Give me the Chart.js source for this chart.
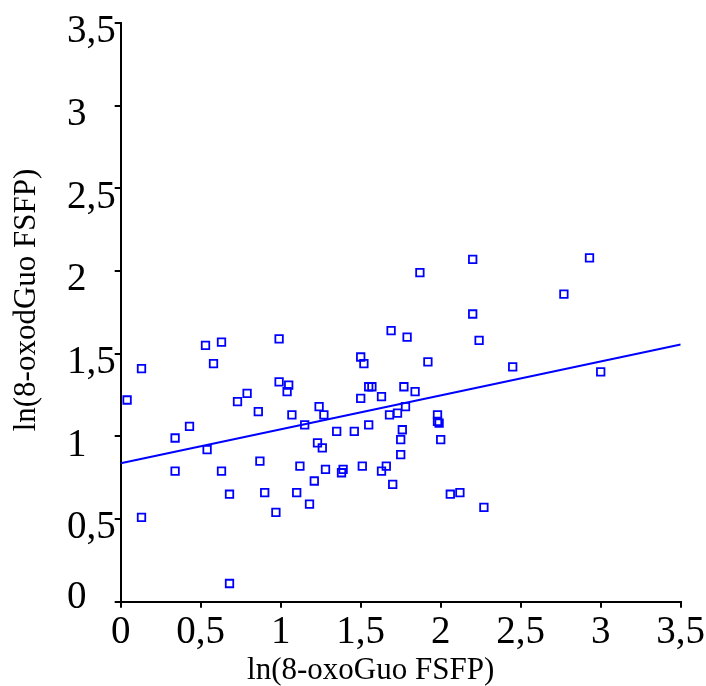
<!DOCTYPE html>
<html>
<head>
<meta charset="utf-8">
<script src="https://cdn.jsdelivr.net/npm/chart.js@4.4.1/dist/chart.umd.min.js"></script>
<style>
html,body{margin:0;padding:0;background:#fff;}
#wrap{width:706px;height:686px;}
</style>
</head>
<body>
<div id="wrap"><canvas id="c" width="706" height="686"></canvas></div>
<script>
// ---- data ----
const xValues = [0.04,0.13,0.13,0.34,0.34,0.43,0.53,0.54,0.58,0.63,0.63,0.68,0.68,0.73,0.79,0.86,0.87,0.90,0.97,0.99,0.99,1.05,1.04,1.07,1.10,1.12,1.15,1.18,1.21,1.23,1.24,1.26,1.27,1.28,1.35,1.38,1.39,1.46,1.50,1.52,1.50,1.51,1.55,1.55,1.57,1.63,1.63,1.66,1.68,1.69,1.70,1.73,1.75,1.75,1.76,1.77,1.79,1.78,1.84,1.87,1.92,1.98,1.98,1.99,2.00,2.06,2.12,2.20,2.20,2.24,2.27,2.45,2.77,2.93,3.00];
const yValues = [1.22,1.41,0.51,0.99,0.79,1.06,1.55,0.92,1.44,1.57,0.79,0.65,0.11,1.21,1.26,1.15,0.85,0.66,0.54,1.59,1.33,1.31,1.27,1.13,0.66,0.82,1.07,0.59,0.73,0.96,1.18,0.93,1.13,0.80,1.03,0.78,0.80,1.03,1.48,1.44,1.23,0.82,1.07,1.30,1.30,1.24,0.79,0.82,1.13,1.64,0.71,1.14,0.89,0.98,1.04,1.30,1.60,1.18,1.27,1.99,1.45,1.13,1.09,1.08,0.98,0.65,0.66,1.74,2.07,1.58,0.57,1.42,1.86,2.08,1.39];
const fitLineX = [0, 3.5];
const fitLineY = [0.837, 1.556];
const xTickLabels = ['0','0,5','1','1,5','2','2,5','3','3,5'];
const yTickLabels = ['0','0,5','1','1,5','2','2,5','3','3,5'];
const xTitle = 'ln(8-oxoGuo FSFP)';
const yTitle = 'ln(8-oxodGuo FSFP)';

const scatterPts = xValues.map((x, i) => ({x: x, y: yValues[i]}));
const linePts = fitLineX.map((x, i) => ({x: x, y: fitLineY[i]}));

const fontFamily = '"Liberation Serif", "Times New Roman", serif';
const tickFont = {family: fontFamily, size: 39};

const titlePlugin = {
  id: 'axisTitles',
  afterDraw(chart) {
    const ctx = chart.ctx;
    const a = chart.chartArea;
    ctx.save();
    ctx.fillStyle = '#000';
    ctx.font = '31px ' + fontFamily;
    ctx.textAlign = 'center';
    ctx.textBaseline = 'alphabetic';
    ctx.fillText(xTitle, a.left + 250, 679);
    ctx.translate(35, a.top + 277);
    ctx.rotate(-Math.PI / 2);
    ctx.fillText(yTitle, 0, 0);
    ctx.restore();
  }
};

new Chart(document.getElementById('c'), {
  type: 'scatter',
  data: {
    datasets: [
      {
        data: scatterPts,
        pointStyle: 'rect',
        pointRadius: 5.3,
        pointHoverRadius: 5.3,
        borderColor: '#0000ff',
        backgroundColor: 'rgba(0,0,0,0)',
        pointBorderWidth: 1.8,
        showLine: false
      },
      {
        data: linePts,
        showLine: true,
        pointRadius: 0,
        borderColor: '#0000ff',
        borderWidth: 2,
        fill: false
      }
    ]
  },
  options: {
    responsive: false,
    animation: false,
    devicePixelRatio: 1,
    layout: {padding: {left: 67, right: 25.3, top: 23, bottom: 0}},
    plugins: {legend: {display: false}, tooltip: {enabled: false}, title: {display: false}},
    scales: {
      x: {
        type: 'linear', min: 0, max: 3.5,
        ticks: {stepSize: 0.5, autoSkip: false, maxRotation: 0, color: '#000', font: tickFont, padding: 2,
          callback: (v, i) => xTickLabels[i]},
        grid: {drawOnChartArea: false, drawTicks: true, tickLength: 6, color: '#000', lineWidth: 2},
        border: {display: true, color: '#000', width: 2},
        afterFit(s) { s.height = 84.3; s.paddingLeft = 0; s.paddingRight = 0; }
      },
      y: {
        type: 'linear', min: 0, max: 3.5,
        ticks: {stepSize: 0.5, autoSkip: false, color: '#000', crossAlign: 'far', labelOffset: 9,
          font: (c) => c.index === 0 ? {family: fontFamily, size: 39, lineHeight: '26px'} : tickFont,
          callback: (v, i) => i === 0 ? [yTickLabels[i], ''] : yTickLabels[i]},
        grid: {drawOnChartArea: false, drawTicks: true, tickLength: 6, color: '#000', lineWidth: 2},
        border: {display: true, color: '#000', width: 2},
        afterFit(s) { s.width = 53.7; s.paddingTop = 0; s.paddingBottom = 0; }
      }
    }
  },
  plugins: [titlePlugin]
});
</script>
</body>
</html>
